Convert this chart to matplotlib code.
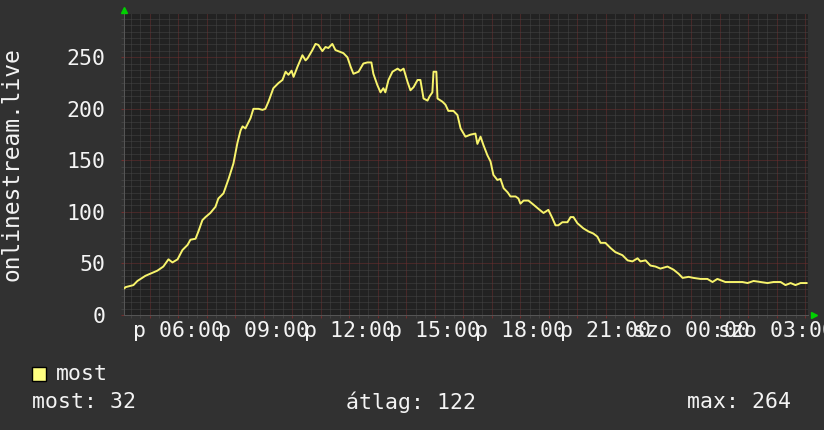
import matplotlib
matplotlib.use("Agg")
import matplotlib.pyplot as plt
import numpy as np
from matplotlib.patches import Rectangle

# time of day in hours (values past 24 are the next day) and the listener counts
hours = [
    4.12, 4.15, 4.43, 4.57, 4.85, 5.10, 5.27, 5.48, 5.66, 5.80, 5.98, 6.15,
    6.33, 6.43, 6.61, 6.71, 6.85, 6.96, 7.13, 7.31, 7.41, 7.59, 7.77, 7.94,
    8.08, 8.19, 8.26, 8.36, 8.54, 8.64, 8.82, 8.96, 9.06, 9.17, 9.34, 9.52,
    9.66, 9.77, 9.87, 9.98, 10.05, 10.19, 10.36, 10.47, 10.54, 10.71, 10.82,
    10.92, 11.06, 11.17, 11.27, 11.41, 11.52, 11.70, 11.80, 11.94, 12.05,
    12.15, 12.33, 12.50, 12.64, 12.78, 12.85, 12.99, 13.10, 13.20, 13.27,
    13.38, 13.52, 13.70, 13.80, 13.91, 14.05, 14.15, 14.26, 14.40, 14.50,
    14.61, 14.75, 14.82, 14.92, 14.96, 15.06, 15.10, 15.27, 15.38, 15.48,
    15.66, 15.80, 15.91, 16.08, 16.26, 16.43, 16.50, 16.61, 16.71, 16.85,
    16.96, 17.06, 17.20, 17.31, 17.42, 17.56, 17.66, 17.84, 17.94, 18.01,
    18.12, 18.29, 18.47, 18.64, 18.82, 18.99, 19.13, 19.24, 19.34, 19.48,
    19.66, 19.77, 19.87, 20.01, 20.22, 20.40, 20.57, 20.71, 20.82, 20.99,
    21.17, 21.34, 21.59, 21.77, 21.94, 22.12, 22.22, 22.40, 22.57, 22.75,
    22.92, 23.17, 23.38, 23.56, 23.70, 23.91, 24.08, 24.33, 24.57, 24.75,
    24.92, 25.20, 25.49, 25.80, 25.98, 26.19, 26.43, 26.68, 26.89, 27.14,
    27.31, 27.49, 27.66, 27.84, 28.05,
]
listeners = [
    26, 27, 29, 33, 38, 41, 43, 47, 54, 51, 54, 63,
    68, 73, 74, 81, 92, 95, 99, 105, 113, 118, 132, 147,
    167, 179, 183, 181, 191, 200, 200, 199, 200, 207, 220, 225,
    228, 236, 233, 237, 231, 241, 252, 247, 249, 257, 263,
    262, 256, 260, 259, 263, 257, 255, 254, 250, 241,
    234, 236, 244, 245, 245, 234, 223, 216, 220, 216,
    228, 236, 239, 237, 239, 226, 218, 221, 228, 228,
    210, 208, 212, 216, 236, 236, 210, 207, 204, 198,
    198, 194, 181, 173, 175, 176, 166, 173, 165, 155,
    149, 136, 131, 132, 123, 119, 115, 115, 113, 108,
    111, 111, 107, 103, 99, 102, 94, 87, 87, 90,
    90, 95, 95, 89, 84, 81, 79, 76, 70, 70,
    65, 61, 58, 53, 52, 55, 52, 53, 48, 47,
    45, 47, 44, 40, 36, 37, 36, 35, 35, 32,
    35, 32, 32, 32, 31, 33, 32, 31, 32, 32,
    29, 31, 29, 31, 31,
]

label_hours = [6, 9, 12, 15, 18, 21, 24, 27]
label_texts = ["p 06:00", "p 09:00", "p 12:00", "p 15:00",
               "p 18:00", "p 21:00", "szo 00:00", "szo 03:00"]
y_ticks = [0, 50, 100, 150, 200, 250]
series_name = "most"
stats = ["most: 32", "átlag: 122", "max: 264"]
source_name = "onlinestream.live"

BG = "#313131"
CANVAS = "#222222"
LINE = "#f8f46c"
MINOR = "#454545"
MAJOR = "#6e2e2e"
TEXT = "#f4f4f4"

plt.rcParams["font.family"] = ["DejaVu Sans Mono"]

W, H = 824, 430
fig = plt.figure(figsize=(W / 100, H / 100), dpi=100, facecolor=BG)
ax = fig.add_axes([124 / W, 115 / H, 684 / W, 301 / H])
ax.set_facecolor(CANVAS)

ax.set_xlim(4.1, 28.1)
ax.set_ylim(0, 292)

# grid: grey every 20 min, red every hour / 50 units
ax.set_xticks(np.arange(5, 29), minor=False)
ax.set_xticks(np.arange(4 + 1 / 3, 28.1, 1 / 3), minor=True)
ax.set_xticklabels([label_texts[label_hours.index(h)] if h in label_hours else ""
                    for h in range(5, 29)])
ax.set_yticks(y_ticks)
ax.set_yticks(np.arange(6.25, 292, 6.25), minor=True)
ax.grid(which="minor", color=MINOR, lw=0.72, ls=(0, (1, 1)))
ax.grid(which="major", color=MAJOR, lw=0.72, ls=(0, (1, 1)))
ax.set_axisbelow(True)

ax.tick_params(which="both", direction="out", labelcolor=TEXT, labelsize=15.5)
ax.tick_params(axis="x", which="major", length=2.5, color=MAJOR, pad=2)
ax.tick_params(axis="x", which="minor", length=2, color=MINOR)
ax.tick_params(axis="y", which="major", length=2.5, color=MAJOR, pad=11)
ax.tick_params(axis="y", which="minor", length=2, color=MINOR)

for side in ["top", "right"]:
    ax.spines[side].set_visible(False)
for side in ["left", "bottom"]:
    ax.spines[side].set_color("#555555")
    ax.spines[side].set_linewidth(0.72)

ax.plot(hours, listeners, color=LINE, lw=1.4, zorder=3)

# green arrow heads at the ends of the axes
ax.plot([0], [1 + 4 / 301], marker="^", ms=4.5, color="#00d000",
        transform=ax.transAxes, clip_on=False, zorder=4)
ax.plot([1 + 6 / 684], [0], marker=">", ms=4.5, color="#00d000",
        transform=ax.transAxes, clip_on=False, zorder=4)

fig.text(12 / W, 1 - 164 / H, source_name, rotation=90, ha="center", va="center",
         color=TEXT, fontsize=16.5)

fig.add_artist(Rectangle((32 / W, 1 - 381 / H), 14 / W, 14 / H,
                         transform=fig.transFigure, facecolor="#ffff80",
                         edgecolor="black", lw=1))
fig.text(56 / W, 1 - 374 / H, series_name, ha="left", va="center",
         color=TEXT, fontsize=15.5)
for x, s in zip([32, 346, 687], stats):
    fig.text(x / W, 1 - 402 / H, s, ha="left", va="center", color=TEXT, fontsize=15.5)

fig.savefig("out.png", dpi=100, facecolor=BG)
